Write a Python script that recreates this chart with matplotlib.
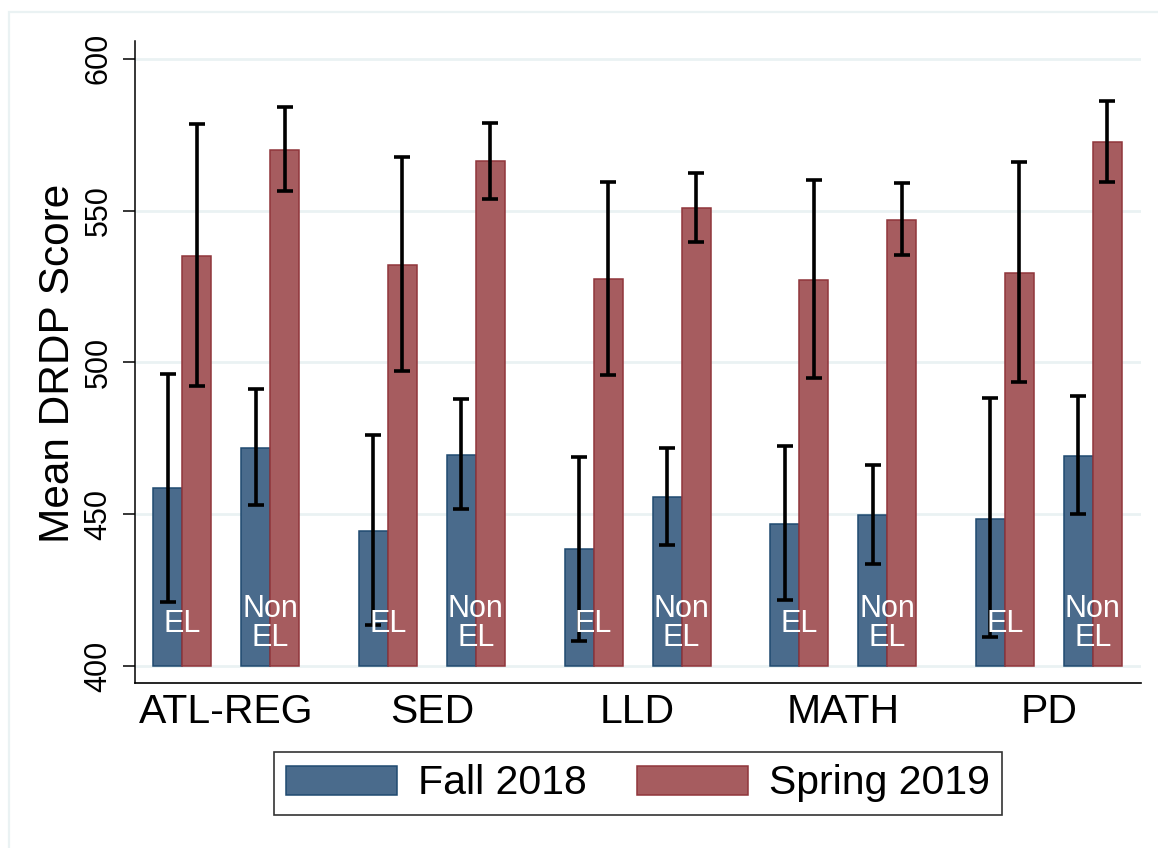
import numpy as np
import matplotlib
matplotlib.use("Agg")
import matplotlib.pyplot as plt
from matplotlib.patches import Rectangle

plt.rcParams["font.family"] = ["Liberation Sans", "DejaVu Sans"]

BLUE_FILL = "#4a6b8c"
BLUE_EDGE = "#1f4a70"
RED_FILL = "#a65c5f"
RED_EDGE = "#90353b"
GRID = "#eaf2f3"

categories = ["ATL-REG", "SED", "LLD", "MATH", "PD"]
groups = ["EL", "Non\nEL"]
seasons = ["Fall 2018", "Spring 2019"]

# Fall 2018 means and 95% CI bounds
fall_el = [458.5, 444.5, 438.4, 446.8, 448.4]
fall_el_lo = [421.2, 413.5, 408.1, 421.6, 409.5]
fall_el_hi = [496.1, 476.0, 469.0, 472.5, 488.2]
fall_non = [471.8, 469.5, 455.8, 449.8, 469.3]
fall_non_lo = [453.0, 451.6, 439.9, 433.7, 450.0]
fall_non_hi = [491.1, 487.9, 471.9, 466.2, 488.8]

# Spring 2019 means and 95% CI bounds
spring_el = [535.1, 532.1, 527.4, 527.3, 529.6]
spring_el_lo = [492.1, 497.3, 495.8, 494.8, 493.4]
spring_el_hi = [578.4, 567.7, 559.3, 560.0, 566.0]
spring_non = [570.1, 566.3, 551.0, 547.0, 572.6]
spring_non_lo = [556.6, 553.9, 539.8, 535.5, 559.6]
spring_non_hi = [584.0, 579.0, 562.5, 559.0, 586.0]

yticks = [400, 450, 500, 550, 600]
BASE = 400

fig = plt.figure(figsize=(11.58, 8.48), dpi=100)
ax = fig.add_axes([0.1166, 0.1942, 0.985 - 0.1166, 0.9517 - 0.1942])

# outer graph region border
fig.patches.append(Rectangle((9 / 1158, -0.1), 1.2, 1 - 12 / 848 + 0.1,
                             transform=fig.transFigure, fill=False,
                             edgecolor=GRID, lw=1.6, zorder=0))

W = 0.141
OFF = 0.428
cat_x = np.arange(len(categories))

series = [
    (0, fall_el, fall_el_lo, fall_el_hi, spring_el, spring_el_lo, spring_el_hi),
    (1, fall_non, fall_non_lo, fall_non_hi, spring_non, spring_non_lo, spring_non_hi),
]

for j, fm, flo, fhi, sm, slo, shi in series:
    centers = cat_x + j * OFF
    fm, flo, fhi = np.array(fm), np.array(flo), np.array(fhi)
    sm, slo, shi = np.array(sm), np.array(slo), np.array(shi)
    ax.bar(centers - W, fm - BASE, W, bottom=BASE, align="edge",
           color=BLUE_FILL, edgecolor=BLUE_EDGE, lw=1.1, zorder=2,
           label=seasons[0] if j == 0 else None)
    ax.bar(centers, sm - BASE, W, bottom=BASE, align="edge",
           color=RED_FILL, edgecolor=RED_EDGE, lw=1.1, zorder=2,
           label=seasons[1] if j == 0 else None)
    ax.errorbar(centers - W / 2, fm, yerr=[fm - flo, fhi - fm], fmt="none",
                ecolor="black", elinewidth=2.6, capsize=6, capthick=2.6, zorder=3)
    ax.errorbar(centers + W / 2, sm, yerr=[sm - slo, shi - sm], fmt="none",
                ecolor="black", elinewidth=2.6, capsize=6, capthick=2.6, zorder=3)
    for c in centers:
        ax.text(c, 414, groups[j], color="white", fontsize=22, ha="center",
                va="center", linespacing=0.98, zorder=4)

for y in yticks:
    ax.axhline(y, color=GRID, lw=2.0, zorder=1)

ax.set_xlim(-0.230, 4.661)
ax.set_ylim(394.3, 605.9)
ax.set_yticks(yticks)
ax.set_yticklabels([str(t) for t in yticks], rotation=90, va="center", fontsize=22)
ax.tick_params(axis="y", direction="out", length=8.6, width=1.1, pad=7)
ax.set_xticks(cat_x + OFF / 2)
ax.set_xticklabels(categories, fontsize=29.5)
ax.tick_params(axis="x", length=0, pad=7)

for s in ["top", "right"]:
    ax.spines[s].set_visible(False)
ax.spines["left"].set_linewidth(1.1)
ax.spines["bottom"].set_linewidth(1.2)

fig.text(58 / 1158, 1 - 363 / 848, "Mean DRDP Score", rotation=90,
         ha="center", va="center", fontsize=30.5)

leg = ax.legend(loc="center", bbox_to_anchor=(638 / 1158, 1 - 783.5 / 848),
                bbox_transform=fig.transFigure, ncol=2, fontsize=29.5,
                frameon=True, fancybox=False, handlelength=2.7,
                handleheight=0.72, handletextpad=0.5, columnspacing=1.25,
                borderpad=0.3, borderaxespad=0)
leg.get_frame().set_edgecolor("black")
leg.get_frame().set_linewidth(1.2)

fig.savefig("out.png", dpi=100, facecolor="white")
